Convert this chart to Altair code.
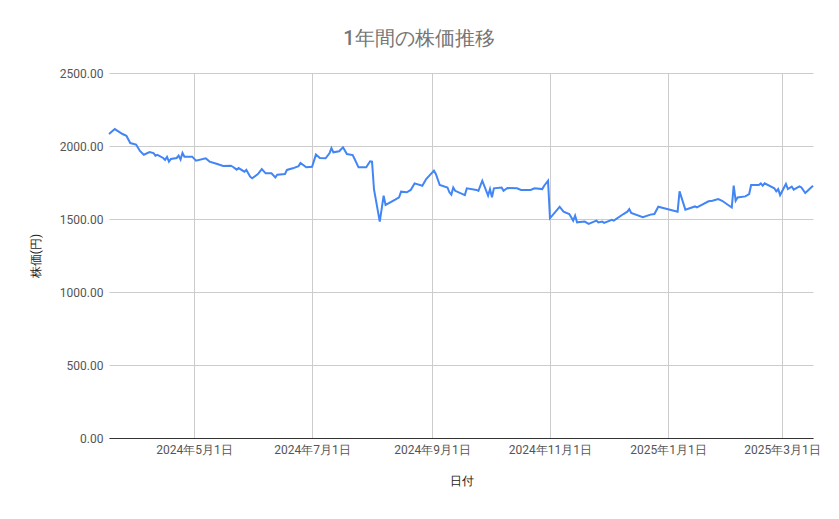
import pandas as pd
import altair as alt

# 日付と終値（画像から読み取った概算値）
dates = [
    "2024-03-18", "2024-03-21", "2024-03-25", "2024-03-27", "2024-03-29",
    "2024-04-01", "2024-04-03", "2024-04-05", "2024-04-08", "2024-04-10",
    "2024-04-11", "2024-04-12", "2024-04-15", "2024-04-16", "2024-04-17",
    "2024-04-18", "2024-04-19", "2024-04-22", "2024-04-23", "2024-04-24",
    "2024-04-25", "2024-04-26", "2024-04-30", "2024-05-02", "2024-05-07",
    "2024-05-09", "2024-05-13", "2024-05-16", "2024-05-20", "2024-05-21",
    "2024-05-23", "2024-05-24", "2024-05-27", "2024-05-28", "2024-05-30",
    "2024-05-31", "2024-06-03", "2024-06-05", "2024-06-07", "2024-06-10",
    "2024-06-12", "2024-06-13", "2024-06-17", "2024-06-18", "2024-06-21",
    "2024-06-24", "2024-06-25", "2024-06-28", "2024-07-01", "2024-07-03",
    "2024-07-05", "2024-07-08", "2024-07-10", "2024-07-11", "2024-07-12",
    "2024-07-15", "2024-07-17", "2024-07-19", "2024-07-22", "2024-07-23",
    "2024-07-25", "2024-07-29", "2024-07-31", "2024-08-01", "2024-08-02",
    "2024-08-05", "2024-08-07", "2024-08-08", "2024-08-13", "2024-08-15",
    "2024-08-16", "2024-08-19", "2024-08-21", "2024-08-23", "2024-08-27",
    "2024-08-29", "2024-09-02", "2024-09-03", "2024-09-05", "2024-09-09",
    "2024-09-10", "2024-09-11", "2024-09-12", "2024-09-13", "2024-09-18",
    "2024-09-19", "2024-09-24", "2024-09-25", "2024-09-27", "2024-09-30",
    "2024-10-01", "2024-10-02", "2024-10-03", "2024-10-07", "2024-10-08",
    "2024-10-10", "2024-10-15", "2024-10-17", "2024-10-22", "2024-10-24",
    "2024-10-28", "2024-10-29", "2024-10-31", "2024-11-01", "2024-11-06",
    "2024-11-08", "2024-11-11", "2024-11-13", "2024-11-14", "2024-11-15",
    "2024-11-19", "2024-11-21", "2024-11-25", "2024-11-26", "2024-11-28",
    "2024-11-29", "2024-12-03", "2024-12-04", "2024-12-09", "2024-12-11",
    "2024-12-12", "2024-12-13", "2024-12-19", "2024-12-23", "2024-12-25",
    "2024-12-27", "2025-01-06", "2025-01-07", "2025-01-10", "2025-01-15",
    "2025-01-16", "2025-01-22", "2025-01-24", "2025-01-27", "2025-01-29",
    "2025-02-03", "2025-02-04", "2025-02-05", "2025-02-06", "2025-02-10",
    "2025-02-12", "2025-02-13", "2025-02-17", "2025-02-18", "2025-02-19",
    "2025-02-20", "2025-02-25", "2025-02-26", "2025-02-27", "2025-02-28",
    "2025-03-03", "2025-03-04", "2025-03-06", "2025-03-07", "2025-03-10",
    "2025-03-11", "2025-03-13", "2025-03-17",
]
prices = [
    2082, 2116, 2082, 2070, 2020,
    2010, 1966, 1940, 1959, 1952,
    1934, 1940, 1918, 1905, 1925,
    1893, 1911, 1918, 1934, 1907,
    1952, 1927, 1927, 1900, 1916,
    1893, 1877, 1863, 1865, 1858,
    1838, 1849, 1824, 1836, 1790,
    1779, 1808, 1842, 1813, 1813,
    1785, 1803, 1808, 1836, 1847,
    1861, 1884, 1854, 1858, 1941,
    1918, 1916, 1950, 1986, 1957,
    1964, 1991, 1945, 1938, 1911,
    1854, 1854, 1895, 1893, 1705,
    1482, 1660, 1596, 1632, 1648,
    1687, 1683, 1699, 1744, 1728,
    1774, 1831, 1808, 1733, 1716,
    1683, 1667, 1716, 1693, 1664,
    1710, 1699, 1693, 1762, 1660,
    1705, 1648, 1710, 1716, 1693,
    1712, 1710, 1699, 1699, 1710,
    1705, 1728, 1762, 1505, 1584,
    1550, 1534, 1489, 1523, 1477,
    1482, 1466, 1489, 1477, 1482,
    1473, 1495, 1489, 1534, 1550,
    1568, 1541, 1512, 1530, 1534,
    1584, 1550, 1689, 1564, 1586,
    1579, 1621, 1625, 1637, 1625,
    1579, 1728, 1625, 1648, 1655,
    1671, 1733, 1733, 1744, 1728,
    1744, 1710, 1689, 1705, 1664,
    1740, 1705, 1722, 1701, 1724,
    1716, 1678, 1728,
]

y_ticks = [0, 500, 1000, 1500, 2000, 2500]
x_ticks = [(2024, 5), (2024, 7), (2024, 9), (2024, 11), (2025, 1), (2025, 3)]

df = pd.DataFrame({"日付": dates, "株価": prices})

font = "Roboto"

chart = alt.Chart(df).mark_line(color="#4285F4", strokeWidth=2).encode(
    x=alt.X(
        "日付:T",
        scale=alt.Scale(type="utc", domain=[dates[0], dates[-1]], nice=False),
        axis=alt.Axis(
            title="日付",
            values=[alt.DateTime(year=y, month=m, date=1, utc=True) for y, m in x_ticks],
            format="%Y年%-m月%-d日",
            labelAngle=0,
            ticks=False,
            labelPadding=6,
            titlePadding=20,
            domainColor="#333333",
            gridColor="#cccccc",
        ),
    ),
    y=alt.Y(
        "株価:Q",
        scale=alt.Scale(domain=[0, 2500], nice=False),
        axis=alt.Axis(
            title="株価(円)",
            values=y_ticks,
            format=".2f",
            ticks=False,
            domain=False,
            labelPadding=6,
            titlePadding=17,
            gridColor="#cccccc",
        ),
    ),
).properties(
    width=704,
    height=365,
    padding={"left": 21, "top": 21, "right": 5, "bottom": 5},
    title=alt.TitleParams(
        "1年間の株価推移",
        fontSize=20,
        font=font,
        fontWeight=500,
        color="#757575",
        offset=18,
        frame="bounds",
        dx=-6,
    ),
).configure_axis(
    labelFont=font,
    labelFontSize=12,
    labelColor="#555555",
    titleFont=font,
    titleFontSize=12,
    titleFontWeight="normal",
    titleColor="#222222",
).configure_view(
    strokeWidth=0
)

chart.save("out.html", embed_options={"renderer": "svg", "actions": False})
